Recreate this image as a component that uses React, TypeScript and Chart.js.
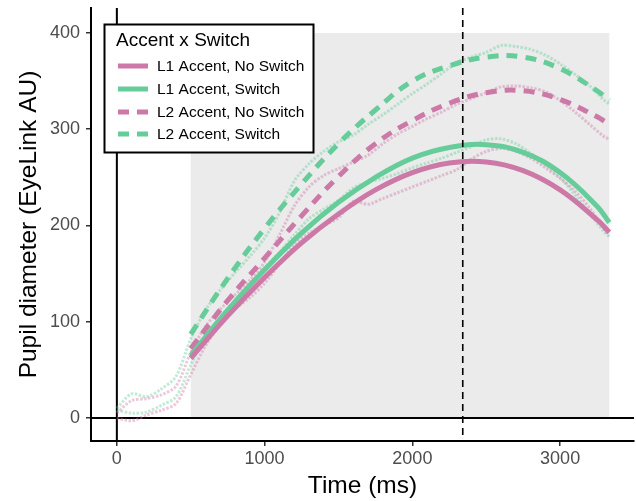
import { useEffect, useRef } from "react";
import { Chart, registerables } from "chart.js";

Chart.register(...registerables);

const FONT = "'Liberation Sans', Arial, Helvetica, sans-serif";

const PINK = "#CC79A7";
const GREEN = "#66CC99";
const PINK_RAW = "rgba(204,121,167,0.4)";
const GREEN_RAW = "rgba(102,204,153,0.4)";

const X_TICKS = [0, 1000, 2000, 3000];
const Y_TICKS = [0, 100, 200, 300, 400];
const X_MIN = -175;
const X_MAX = 3500;
const Y_MIN = -24;
const Y_MAX = 426;

const WINDOW_START = 500;
const WINDOW_END = 3333;
const WINDOW_TOP = 400;
const PEAK_MARK = 2341;

const LEGEND_TITLE = "Accent x Switch";
const SERIES_NAMES = [
  "L1 Accent, No Switch",
  "L1 Accent, Switch",
  "L2 Accent, No Switch",
  "L2 Accent, Switch",
];

const RAW_TIME = [
  0, 100, 200, 300, 400, 500, 600, 700, 800, 900, 1000, 1100, 1200, 1300, 1400,
  1500, 1600, 1700, 1800, 1900, 2000, 2100, 2200, 2300, 2400, 2500, 2600, 2700,
  2800, 2900, 3000, 3100, 3200, 3300, 3333,
];
const RAW_L1_NOSWITCH = [
  0, -3, 3, 8, 15, 45, 75, 97, 113, 125, 140, 160, 180, 192, 200, 208, 225, 222,
  228, 234, 240, 246, 252, 258, 269, 277, 280, 277, 270, 260, 249, 236, 218, 196,
  190,
];
const RAW_L1_SWITCH = [
  8, 5, 6, 13, 22, 55, 85, 105, 122, 139, 156, 172, 190, 207, 217, 226, 239, 245,
  249, 254, 260, 265, 270, 276, 282, 289, 290, 285, 275, 263, 250, 232, 212, 193,
  188,
];
const RAW_L2_NOSWITCH = [
  5, 18, 20, 24, 33, 68, 95, 113, 128, 143, 162, 190, 220, 240, 252, 259, 266,
  273, 285, 295, 303, 311, 318, 326, 332, 338, 344, 345, 343, 339, 330, 318, 305,
  292, 290,
];
const RAW_L2_SWITCH = [
  10, 25, 22, 30, 43, 82, 112, 133, 151, 168, 187, 213, 246, 264, 277, 287, 294,
  305, 315, 326, 337, 347, 358, 369, 375, 380, 387, 386, 383, 377, 368, 357, 345,
  330, 326,
];

const FIT_TIME = [500, 750, 1000, 1250, 1500, 1750, 2000, 2250, 2500, 2750, 3000, 3250, 3333];
const FIT_L1_NOSWITCH = [62, 106, 146, 182, 212, 237, 255, 265, 266, 257, 237, 206, 193];
const FIT_L1_SWITCH = [65, 112, 154, 192, 224, 250, 270, 281, 284, 276, 255, 220, 203];
const FIT_L2_NOSWITCH = [72, 122, 166, 210, 251, 285, 309, 327, 338, 340, 331, 313, 305];
const FIT_L2_SWITCH = [87, 145, 197, 243, 285, 320, 350, 366, 375, 375, 363, 340, 330];

const pts = (xs: number[], ys: number[]) => xs.map((x, i) => ({ x, y: ys[i] }));

const FIT_DASH = [11, 8];

export default function App() {
  const ref = useRef<HTMLCanvasElement | null>(null);

  useEffect(() => {
    const canvas = ref.current;
    if (!canvas) return;

    const fits = [
      { data: FIT_L1_NOSWITCH, color: PINK, dash: [] as number[] },
      { data: FIT_L1_SWITCH, color: GREEN, dash: [] as number[] },
      { data: FIT_L2_NOSWITCH, color: PINK, dash: FIT_DASH },
      { data: FIT_L2_SWITCH, color: GREEN, dash: FIT_DASH },
    ];
    const raws = [
      { data: RAW_L1_NOSWITCH, color: PINK_RAW },
      { data: RAW_L1_SWITCH, color: GREEN_RAW },
      { data: RAW_L2_NOSWITCH, color: PINK_RAW },
      { data: RAW_L2_SWITCH, color: GREEN_RAW },
    ];

    const datasets: any[] = [];
    raws.forEach((r, i) => {
      datasets.push({
        label: SERIES_NAMES[i] + " (observed)",
        data: pts(RAW_TIME, r.data),
        borderColor: r.color,
        backgroundColor: r.color,
        borderWidth: 3,
        borderDash: [2.5, 1.5],
        pointRadius: 0,
        tension: 0.3,
        order: 2,
      });
    });
    fits.forEach((f, i) => {
      datasets.push({
        label: SERIES_NAMES[i],
        data: pts(FIT_TIME, f.data),
        borderColor: f.color,
        backgroundColor: f.color,
        borderWidth: 5,
        borderDash: f.dash,
        borderCapStyle: "butt",
        pointRadius: 0,
        tension: 0.4,
        order: 1,
      });
    });

    const backdrop = {
      id: "backdrop",
      beforeDatasetsDraw(chart: any) {
        const { ctx, chartArea, scales } = chart;
        const xs = scales.x;
        const ys = scales.y;
        ctx.save();
        ctx.fillStyle = "#EBEBEB";
        const x0 = xs.getPixelForValue(WINDOW_START);
        const x1 = xs.getPixelForValue(WINDOW_END);
        const y0 = ys.getPixelForValue(0);
        const y1 = ys.getPixelForValue(WINDOW_TOP);
        ctx.fillRect(x0, y1, x1 - x0, y0 - y1);
        ctx.strokeStyle = "#000";
        ctx.lineWidth = 2;
        ctx.beginPath();
        ctx.moveTo(chartArea.left, y0);
        ctx.lineTo(chartArea.right, y0);
        const xz = xs.getPixelForValue(0);
        ctx.moveTo(xz, chartArea.top);
        ctx.lineTo(xz, chartArea.bottom);
        ctx.stroke();
        ctx.restore();
      },
      afterDatasetsDraw(chart: any) {
        const { ctx, chartArea, scales } = chart;
        const xp = scales.x.getPixelForValue(PEAK_MARK);
        ctx.save();
        ctx.strokeStyle = "#000";
        ctx.lineWidth = 1.6;
        ctx.setLineDash([7, 5]);
        ctx.beginPath();
        ctx.moveTo(xp, chartArea.top);
        ctx.lineTo(xp, chartArea.bottom);
        ctx.stroke();
        ctx.restore();
      },
      afterDraw(chart: any) {
        const { ctx } = chart;
        ctx.save();
        const bx = 104.5, by = 24.5, bw = 209, bh = 128;
        ctx.fillStyle = "#fff";
        ctx.fillRect(bx, by, bw, bh);
        ctx.strokeStyle = "#000";
        ctx.lineWidth = 2;
        ctx.strokeRect(bx, by, bw, bh);
        ctx.fillStyle = "#000";
        ctx.textBaseline = "middle";
        ctx.textAlign = "left";
        ctx.font = `19px ${FONT}`;
        ctx.fillText(LEGEND_TITLE, 116, 41);
        const rowY = [66, 89, 112, 134];
        fits.forEach((f, i) => {
          const y = rowY[i];
          ctx.strokeStyle = f.color;
          ctx.lineWidth = 5;
          ctx.setLineDash(f.dash.length ? [11, 8] : []);
          ctx.beginPath();
          ctx.moveTo(118, y);
          ctx.lineTo(148, y);
          ctx.stroke();
          ctx.setLineDash([]);
          ctx.fillStyle = "#000";
          ctx.font = `15.5px ${FONT}`;
          ctx.fillText(SERIES_NAMES[i], 157, y + 1);
        });
        ctx.restore();
      },
    };

    const chart = new Chart(canvas, {
      type: "line",
      data: { datasets },
      plugins: [backdrop],
      options: {
        animation: false,
        responsive: false,
        layout: { padding: { top: 8, right: 2, left: 0, bottom: 0 } },
        plugins: { legend: { display: false }, tooltip: { enabled: false } },
        scales: {
          x: {
            type: "linear",
            min: X_MIN,
            max: X_MAX,
            afterBuildTicks: (s: any) => {
              s.ticks = X_TICKS.map((v) => ({ value: v }));
            },
            afterFit: (s: any) => {
              s.height = 60;
              s.paddingLeft = 0;
              s.paddingRight = 0;
            },
            grid: { drawOnChartArea: false, drawTicks: true, tickLength: 5, color: "#333", lineWidth: 1.5 },
            border: { display: true, color: "#000", width: 2 },
            ticks: {
              color: "#4D4D4D",
              font: { family: FONT, size: 18 },
              padding: 2,
              maxRotation: 0,
              callback: (v: any) => String(v),
            },
            title: { display: true, text: "Time (ms)", color: "#000", font: { family: FONT, size: 24.5 }, padding: { top: 2, bottom: 0 } },
          },
          y: {
            type: "linear",
            min: Y_MIN,
            max: Y_MAX,
            afterBuildTicks: (s: any) => {
              s.ticks = Y_TICKS.map((v) => ({ value: v }));
            },
            afterFit: (s: any) => {
              s.width = 91;
              s.paddingTop = 0;
              s.paddingBottom = 0;
            },
            grid: { drawOnChartArea: false, drawTicks: true, tickLength: 5, color: "#333", lineWidth: 1.5 },
            border: { display: true, color: "#000", width: 2 },
            ticks: { color: "#4D4D4D", font: { family: FONT, size: 18 }, padding: 6, callback: (v: any) => String(v) },
            title: { display: true, text: "Pupil diameter (EyeLink AU)", color: "#000", font: { family: FONT, size: 24.5 }, padding: { top: 15, bottom: 0 } },
          },
        },
      },
    });

    return () => chart.destroy();
  }, []);

  return (
    <div style={{ position: "fixed", left: 0, top: 0, width: 636, height: 501, background: "#fff" }}>
      <canvas ref={ref} width={636} height={501} style={{ display: "block", width: 636, height: 501 }} />
    </div>
  );
}
